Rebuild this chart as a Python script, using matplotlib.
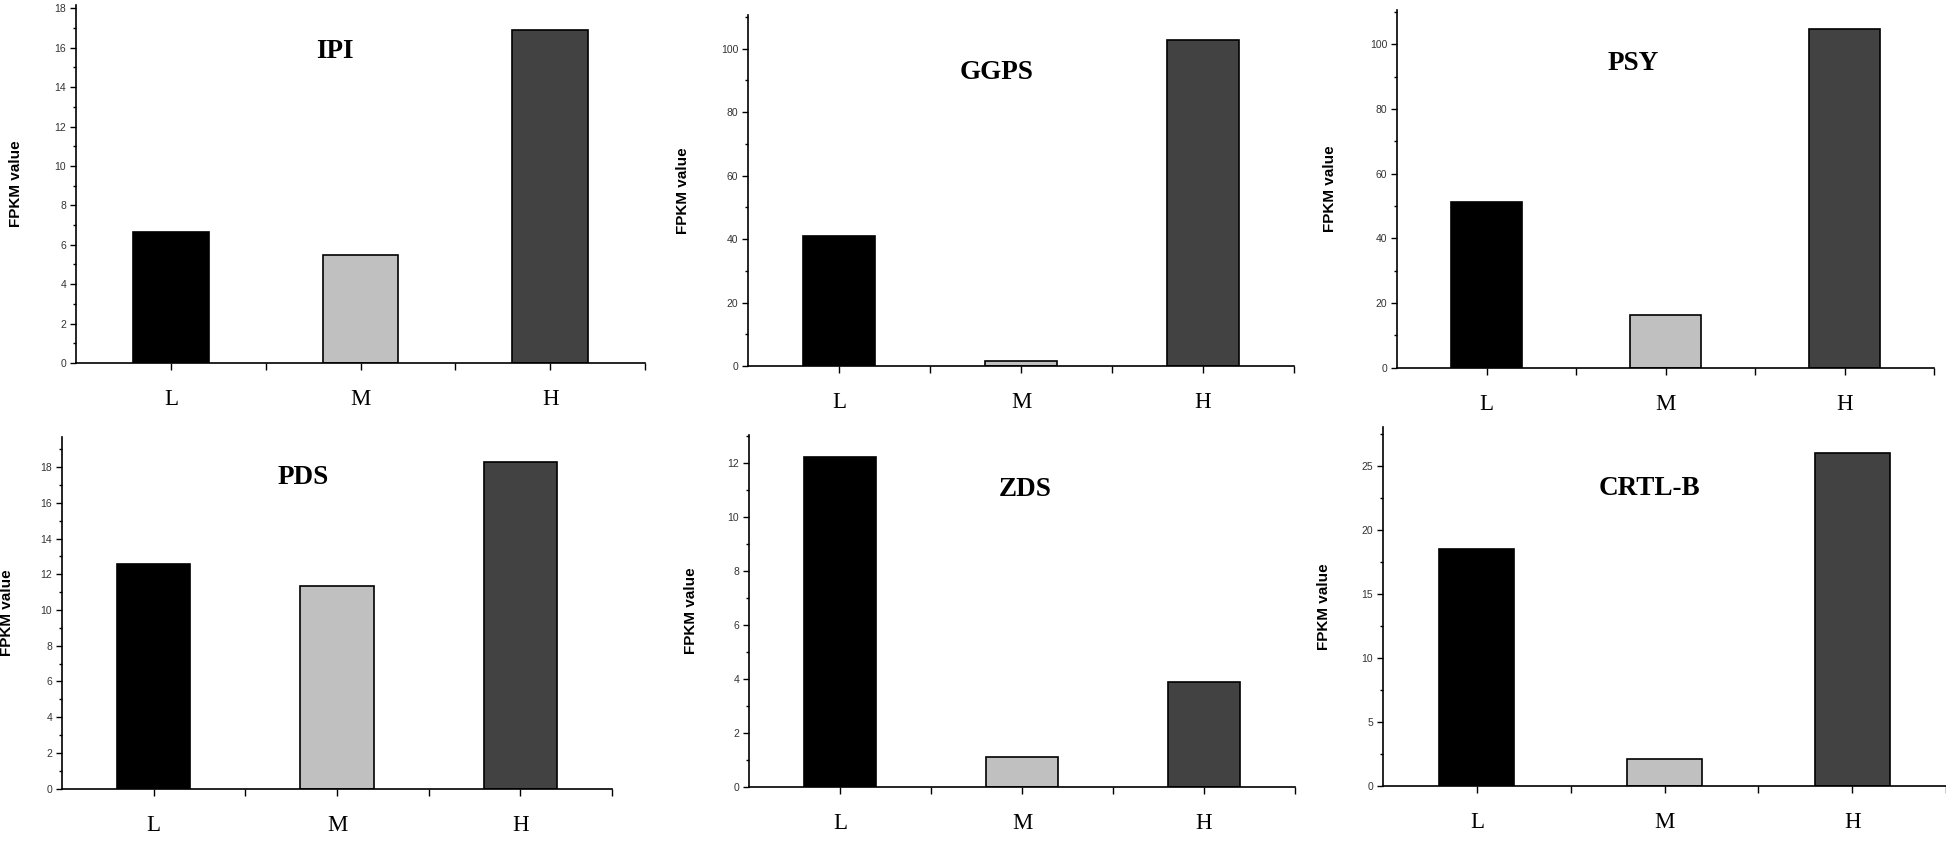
import matplotlib
matplotlib.use("Agg")
import matplotlib.pyplot as plt
from matplotlib.ticker import MultipleLocator, FixedLocator

# data
levels = ["L", "M", "H"]
genes = ["IPI", "GGPS", "PSY", "PDS", "ZDS", "CRTL-B"]
ipi = [6.64, 5.46, 16.92]
ggps = [41.1, 1.7, 102.7]
psy = [51.2, 16.3, 104.6]
pds = [12.6, 11.33, 18.28]
zds = [12.25, 1.11, 3.89]
crtlb = [18.5, 2.11, 26.0]
values = [ipi, ggps, psy, pds, zds, crtlb]

bar_colors = ["#000000", "#c0c0c0", "#424242"]
ylims = [18.17, 110.6, 110.6, 19.7, 13.05, 28.07]
major = [2, 20, 20, 2, 2, 5]
minor = [1, 10, 10, 1, 1, 2.5]

W, H = 1946, 844
# axes boxes in pixels: left, right, top, bottom
boxes = [(76, 645, 5, 363), (748, 1294, 15, 366), (1397, 1934, 10, 367.7),
         (62, 612, 436.7, 788.7), (749, 1295, 435, 786.7), (1383, 1946, 426.7, 785.7)]
title_pos = [(0.455, 0.87), (0.456, 0.835), (0.44, 0.85),
             (0.438, 0.883), (0.505, 0.844), (0.474, 0.829)]
ylab_off = [53, 58, 60, 48, 51, 52]

fig = plt.figure(figsize=(W / 100, H / 100), dpi=100)

for i, g in enumerate(genes):
    l, r, t, b = boxes[i]
    ax = fig.add_axes([l / W, 1 - b / H, (r - l) / W, (b - t) / H])
    x = [1, 2, 3]
    ax.bar(x, values[i], width=0.4, color=bar_colors, edgecolor="black", linewidth=1.2, zorder=2)
    ax.set_xlim(0.5, 3.5)
    ax.set_ylim(0, ylims[i])
    for s in ["top", "right"]:
        ax.spines[s].set_visible(False)
    for s in ["left", "bottom"]:
        ax.spines[s].set_linewidth(1.2)
    ax.yaxis.set_major_locator(MultipleLocator(major[i]))
    ax.yaxis.set_minor_locator(MultipleLocator(minor[i]))
    ax.xaxis.set_major_locator(FixedLocator(x))
    ax.xaxis.set_minor_locator(FixedLocator([1.5, 2.5, 3.5]))
    ax.set_xticklabels(levels, fontfamily="Liberation Serif", fontsize=16.5)
    ax.tick_params(axis="x", which="both", direction="out", length=5, width=1, pad=14)
    ax.tick_params(axis="y", which="major", direction="out", length=4, width=1, pad=3,
                   labelsize=7.5, labelcolor="#333333")
    ax.tick_params(axis="y", which="minor", direction="out", length=2.5, width=1)
    for lab in ax.get_yticklabels():
        lab.set_fontfamily("Liberation Sans")
    ax.set_ylabel("FPKM value", fontfamily="Liberation Sans", fontweight="bold", fontsize=11)
    ax.yaxis.set_label_coords(-ylab_off[i] / (r - l), 0.5)
    ax.text(title_pos[i][0], title_pos[i][1], g, transform=ax.transAxes, ha="center", va="center",
            fontfamily="Liberation Serif", fontweight="bold", fontsize=19.5)

fig.savefig("out.png", dpi=100)
